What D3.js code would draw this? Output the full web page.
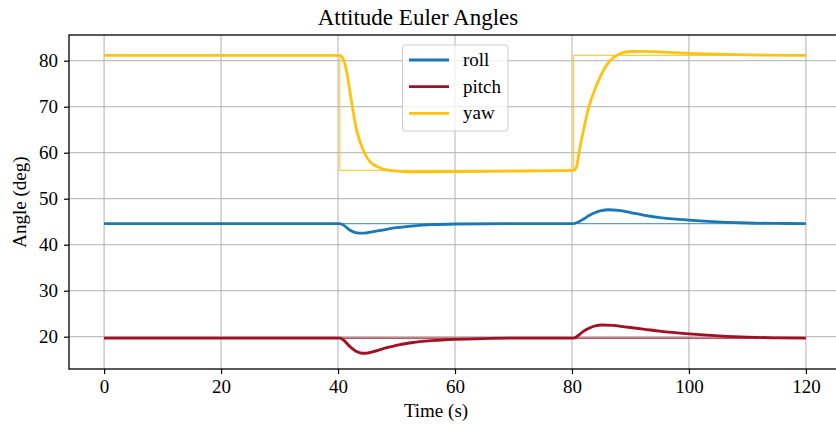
<!DOCTYPE html>
<html>
<head>
<meta charset="utf-8">
<script src="https://cdn.jsdelivr.net/npm/d3@7"></script>
<style>
  html, body { margin: 0; padding: 0; background: #fff; }
  svg { display: block; overflow: hidden; }
  text { font-family: "Liberation Serif", "DejaVu Serif", serif; fill: #000; }
</style>
</head>
<body>
<svg id="chart" width="836" height="425"></svg>
<script>
// Attitude response samples: time (s) and angle (deg)
const rollT  = [0, 40.3, 41, 42, 43, 44, 45, 47, 50, 53, 56, 60, 70, 80.3, 81, 82, 83, 84, 85, 86.2, 88, 90, 92.2, 95, 100, 106.4, 110, 115, 120];
const rollV  = [44.6, 44.6, 44.2, 43.2, 42.65, 42.5, 42.6, 43.05, 43.7, 44.1, 44.35, 44.5, 44.6, 44.6, 44.9, 45.6, 46.4, 47.0, 47.4, 47.6, 47.45, 47.0, 46.45, 45.9, 45.35, 44.87, 44.72, 44.63, 44.6];

const pitchT = [0, 40.3, 41, 42, 43, 44.1, 45, 46, 48, 50.4, 53, 56, 60, 65, 70, 80.3, 81, 82, 83, 84, 85.1, 87, 89, 92.2, 95, 100, 106.4, 110, 115, 120];
const pitchV = [19.7, 19.7, 19.2, 17.9, 16.9, 16.4, 16.45, 16.75, 17.5, 18.25, 18.75, 19.13, 19.42, 19.6, 19.68, 19.68, 20.2, 21.2, 21.9, 22.35, 22.55, 22.45, 22.15, 21.67, 21.2, 20.6, 20.08, 19.9, 19.75, 19.68];

const yawT   = [0, 40.3, 40.8, 41.5, 42.2, 43, 44.5, 45.5, 47, 48.5, 50, 52, 56, 60, 70, 80.3, 80.8, 81.2, 82, 82.9, 84, 85, 86.5, 88, 90, 92, 95, 100, 105, 110, 120];
const yawV   = [81.15, 81.15, 80.6, 77.5, 72, 66, 60, 58, 56.8, 56.2, 56.0, 55.85, 55.85, 55.9, 56.0, 56.15, 57, 60, 65, 70, 74, 77, 80, 81.4, 82.0, 82.05, 81.9, 81.6, 81.4, 81.25, 81.15];

// Commanded (reference) angles, held as steps
const refT      = [0, 40.3, 80.3, 120];
const rollRef   = [44.6, 44.6, 44.6, 44.6];
const pitchRef  = [19.68, 19.68, 19.68, 19.68];
const yawRef    = [81.15, 56.15, 81.15, 81.15];

const seriesNames  = ["roll", "pitch", "yaw"];
const seriesColors = ["#1a78b4", "#a30f24", "#ffc20e"];

const xTicks = [0, 20, 40, 60, 80, 100, 120];
const yTicks = [20, 30, 40, 50, 60, 70, 80];

const titleText = "Attitude Euler Angles";
const xLabel = "Time (s)";
const yLabel = "Angle (deg)";

// ---- layout ----
const svg = d3.select("#chart");
const plot = { left: 69, top: 35, right: 841, bottom: 369 };

const x = d3.scaleLinear().domain([-6, 126]).range([plot.left, plot.right]);
const y = d3.scaleLinear().domain([12.98, 85.59]).range([plot.bottom, plot.top]);

// grid
const grid = svg.append("g");
grid.selectAll("line.vx").data(xTicks).join("line")
  .attr("x1", d => x(d)).attr("x2", d => x(d))
  .attr("y1", plot.top).attr("y2", plot.bottom)
  .attr("stroke", "#b0b0b0").attr("stroke-width", 1);
grid.selectAll("line.hy").data(yTicks).join("line")
  .attr("x1", plot.left).attr("x2", plot.right)
  .attr("y1", d => y(d)).attr("y2", d => y(d))
  .attr("stroke", "#b0b0b0").attr("stroke-width", 1);

// lines
const line = d3.line().x(d => x(d[0])).y(d => y(d[1])).curve(d3.curveMonotoneX);
const stepLine = d3.line().x(d => x(d[0])).y(d => y(d[1])).curve(d3.curveStepAfter);

const refs = [rollRef, pitchRef, yawRef];
const refOpacity = [0.7, 0.95, 0.8];
const resp = [[rollT, rollV], [pitchT, pitchV], [yawT, yawV]];

const lines = svg.append("g");
refs.forEach((r, i) => {
  lines.append("path")
    .attr("d", stepLine(refT.map((t, k) => [t, r[k]])))
    .attr("fill", "none")
    .attr("stroke", seriesColors[i])
    .attr("stroke-width", 1.2)
    .attr("stroke-opacity", refOpacity[i]);
});
resp.forEach((s, i) => {
  lines.append("path")
    .attr("d", line(s[0].map((t, k) => [t, s[1][k]])))
    .attr("fill", "none")
    .attr("stroke", seriesColors[i])
    .attr("stroke-width", 2.8)
    .attr("stroke-linejoin", "round");
});

// axes
const xAxis = d3.axisBottom(x).tickValues(xTicks).tickSize(5).tickPadding(6).tickFormat(d3.format("d"));
const yAxis = d3.axisLeft(y).tickValues(yTicks).tickSize(5).tickPadding(6).tickFormat(d3.format("d"));

const gx = svg.append("g").attr("transform", `translate(0,${plot.bottom})`).call(xAxis);
const gy = svg.append("g").attr("transform", `translate(${plot.left},0)`).call(yAxis);
[gx, gy].forEach(g => {
  g.select(".domain").remove();
  g.selectAll(".tick line").attr("stroke", "#000").attr("stroke-width", 1.2);
  g.selectAll(".tick text").attr("font-size", 19).attr("font-family", "Liberation Serif");
});

// spines
svg.append("rect")
  .attr("x", plot.left).attr("y", plot.top)
  .attr("width", plot.right - plot.left).attr("height", plot.bottom - plot.top)
  .attr("fill", "none").attr("stroke", "#000").attr("stroke-width", 1.3);

// title and labels
svg.append("text").attr("x", 418).attr("y", 25).attr("text-anchor", "middle")
  .attr("font-size", 23).text(titleText);
svg.append("text").attr("x", 436).attr("y", 417).attr("text-anchor", "middle")
  .attr("font-size", 19).text(xLabel);
svg.append("text").attr("transform", "translate(26,202) rotate(-90)").attr("text-anchor", "middle")
  .attr("font-size", 19).text(yLabel);

// legend
const legend = svg.append("g").attr("transform", "translate(402.5,45)");
legend.append("rect").attr("width", 105.5).attr("height", 86).attr("rx", 3)
  .attr("fill", "#fff").attr("fill-opacity", 0.8)
  .attr("stroke", "#cccccc").attr("stroke-width", 1);
seriesNames.forEach((name, i) => {
  const cy = 15 + i * 26.7;
  legend.append("line").attr("x1", 6.5).attr("x2", 46.5).attr("y1", cy).attr("y2", cy)
    .attr("stroke", seriesColors[i]).attr("stroke-width", 2.8);
  legend.append("text").attr("x", 60.5).attr("y", cy + 6).attr("font-size", 19).text(name);
});
</script>
</body>
</html>
